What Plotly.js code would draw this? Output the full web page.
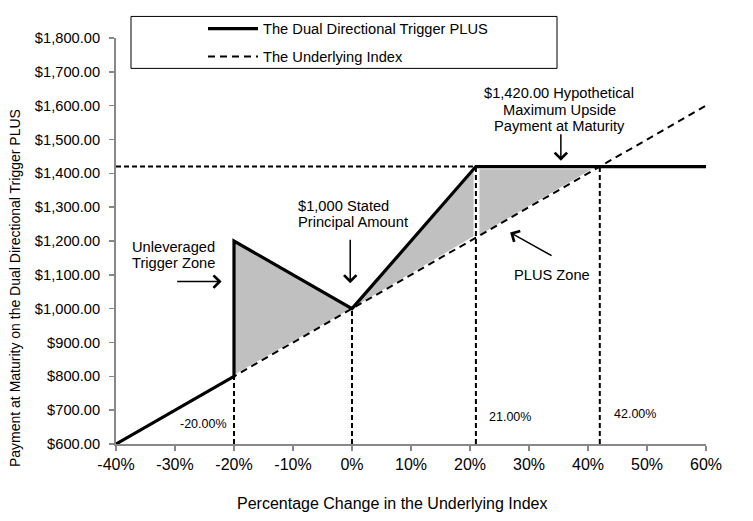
<!DOCTYPE html>
<html>
<head>
<meta charset="utf-8">
<script src="https://cdn.plot.ly/plotly-3.0.1.min.js"></script>
<style>
  html, body { margin: 0; padding: 0; background: #fff; }
  #chart { width: 753px; height: 521px; }
</style>
</head>
<body>
<div id="chart"></div>
<script>
// payoff of the notes, % change of the index vs payment
var plusX = [-40, -20, -20, 0, 21, 60];
var plusY = [600, 800, 1200, 1000, 1420, 1420];

// underlying index, 1:1
var indexX = [-40, 60];
var indexY = [600, 1600];

// grey zones
var zone1X = [-20, -20, 0, -20];
var zone1Y = [805, 1195, 1002, 805];
var zone2X = [0.6, 20.6, 20.6, 0.6];
var zone2Y = [1008, 1412, 1214, 1008];
var zone3X = [21.6, 40.6, 21.6, 21.6];
var zone3Y = [1412, 1412, 1218, 1412];

// dashed guide lines
var guideX = [-20, 0, 21, 42];
var guideTop = [800, 1000, 1420, 1420];
var capY = 1420;
var guideLabels = ['-20.00%', '', '21.00%', '42.00%'];

// x tick labels (plain hyphen, like the original)
var xTicks = [-40, -30, -20, -10, 0, 10, 20, 30, 40, 50, 60];
var xTickText = ['-40%', '-30%', '-20%', '-10%', '0%', '10%', '20%', '30%', '40%', '50%', '60%'];

var fillCol = '#c0c0c0';
var FONT = 'Liberation Sans, Arial, sans-serif';
var data = [];

[[zone1X, zone1Y], [zone2X, zone2Y], [zone3X, zone3Y]].forEach(function(z) {
  data.push({
    x: z[0], y: z[1], type: 'scatter', mode: 'lines', fill: 'toself',
    fillcolor: fillCol, line: {width: 0, color: fillCol},
    showlegend: false, hoverinfo: 'skip'
  });
});

for (var i = 0; i < guideX.length; i++) {
  data.push({
    x: [guideX[i], guideX[i]], y: [600, guideTop[i]], type: 'scatter', mode: 'lines',
    line: {color: '#000', width: 2, dash: '5px,3px'}, showlegend: false, hoverinfo: 'skip'
  });
}
data.push({
  x: [-40, 21], y: [capY, capY], type: 'scatter', mode: 'lines',
  line: {color: '#000', width: 2, dash: '5px,3px'}, showlegend: false, hoverinfo: 'skip'
});

data.push({
  x: indexX, y: indexY, type: 'scatter', mode: 'lines',
  name: 'The Underlying Index', legendgroup: 'b', legendrank: 2,
  line: {color: '#000', width: 2, dash: '7px,5px'}
});
data.push({
  x: plusX, y: plusY, type: 'scatter', mode: 'lines',
  name: 'The Dual Directional Trigger PLUS', legendgroup: 'a', legendrank: 1,
  line: {color: '#000', width: 3.2}
});

var txt = {family: FONT, size: 14.67, color: '#000'};
var annotations = [];

// multi-line text blocks, one annotation per line for tight spacing
function block(lines, x, y, anchor, gap) {
  lines.forEach(function(s, k) {
    annotations.push({x: x, y: y, xref: 'x', yref: 'y', text: s, showarrow: false,
      xanchor: anchor, yanchor: 'middle', yshift: -gap * k, font: txt});
  });
}
function arrow(x, y, ax, ay) {
  annotations.push({x: x, y: y, xref: 'x', yref: 'y', ax: ax, ay: ay,
    axref: 'pixel', ayref: 'pixel', text: '', showarrow: true,
    arrowhead: 4, arrowsize: 1.6, arrowwidth: 1.5, arrowcolor: '#000'});
}

block(['$1,000 Stated', 'Principal Amount'], -9.5, 1302, 'left', 16);
arrow(-0.3, 1075, 0, -45);
block(['Unleveraged', 'Trigger Zone'], -37.6, 1183, 'left', 16);
arrow(-22.1, 1080, -46, 0);
block(['$1,420.00 Hypothetical', 'Maximum Upside', 'Payment at Maturity'], 35.1, 1637, 'center', 16.5);
arrow(35.4, 1437, 0, -28);
block(['PLUS Zone'], 33.85, 1100, 'center', 0);
arrow(26.8, 1225, 43, 24);

var labelPos = [[-25.2, 660], null, [26.8, 679], [48.0, 689]];
for (var j = 0; j < guideLabels.length; j++) {
  if (!labelPos[j]) continue;
  annotations.push({
    x: labelPos[j][0], y: labelPos[j][1], xref: 'x', yref: 'y', text: guideLabels[j],
    showarrow: false, font: {family: FONT, size: 12.5, color: '#000'}
  });
}

// axis titles
annotations.push({x: (392 - 116) / 590, y: (444 - 505) / 414, xref: 'paper', yref: 'paper',
  text: 'Percentage Change in the Underlying Index', showarrow: false,
  xanchor: 'center', yanchor: 'middle', font: {family: FONT, size: 16, color: '#000'}});
annotations.push({x: (15 - 116) / 590, y: (444 - 285) / 414, xref: 'paper', yref: 'paper',
  text: 'Payment at Maturity on the Dual Directional Trigger PLUS', showarrow: false,
  textangle: -90, xanchor: 'center', yanchor: 'middle', font: {family: FONT, size: 14, color: '#000'}});

var layout = {
  width: 753, height: 521,
  margin: {l: 116, r: 47, t: 30, b: 77},
  paper_bgcolor: '#fff', plot_bgcolor: '#fff',
  font: txt,
  xaxis: {
    range: [-40, 60], tickmode: 'array', tickvals: xTicks, ticktext: xTickText,
    showgrid: false, zeroline: false,
    showline: true, linecolor: '#888', linewidth: 2,
    ticks: 'outside', ticklen: 5, tickcolor: '#888', tickwidth: 1.5,
    tickfont: {family: FONT, size: 16, color: '#000'}
  },
  yaxis: {
    range: [600, 1800], dtick: 100, tickformat: '$,.2f', showgrid: false, zeroline: false,
    showline: true, linecolor: '#888', linewidth: 2,
    ticks: 'outside', ticklen: 5, tickcolor: '#888', tickwidth: 1.5,
    ticklabelstandoff: 6,
    tickfont: {family: FONT, size: 14.67, color: '#000'}
  },
  showlegend: true,
  legend: {
    x: (203 - 116) / 590, y: 1.0628, xanchor: 'left', yanchor: 'top',
    bgcolor: 'rgba(0,0,0,0)', borderwidth: 0,
    tracegroupgap: 6, itemwidth: 50,
    font: {family: FONT, size: 14.67, color: '#000'}
  },
  shapes: [{
    type: 'rect', xref: 'paper', yref: 'paper',
    x0: (131 - 116) / 590, x1: (557 - 116) / 590,
    y0: (444 - 61) / 414, y1: (444 - 8) / 414,
    line: {color: '#000', width: 1}, fillcolor: 'rgba(0,0,0,0)', layer: 'above'
  }],
  annotations: annotations
};

Plotly.newPlot('chart', data, layout, {displayModeBar: false, staticPlot: true});
</script>
</body>
</html>
